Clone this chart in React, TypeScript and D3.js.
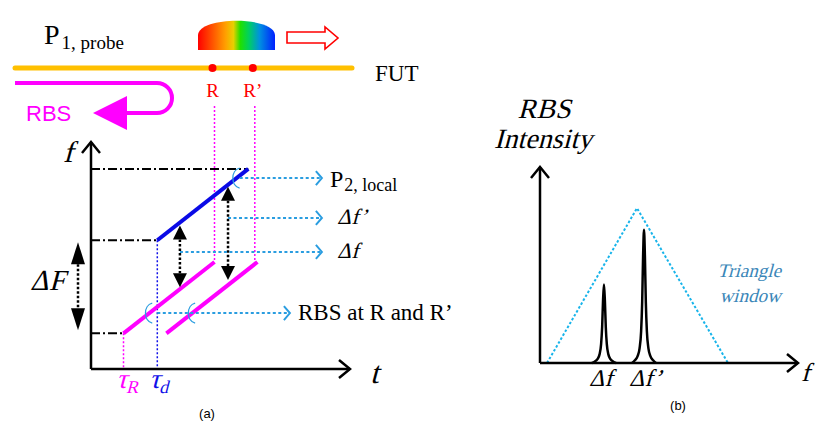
import * as d3 from "d3";

// ---- panel (a): chirps in (t, f) units ----
const localChirp: [number, number][] = [[2.55, 5.6], [6.05, 8.7]];
const rbsChirpR: [number, number][] = [[1.25, 1.55], [4.75, 4.65]];
const rbsChirpR2: [number, number][] = [[2.9, 1.55], [6.4, 4.65]];
const reflectorT = [4.75, 6.3]; // R, R'
const reflectorLabels = ["R", "R\u2019"];
const tauR = 1.25;
const tauD = 2.55;
const fLow = 1.55;
const fMid = 5.6;
const fHigh = 8.7;

// blue dotted call-outs: start t, end t, f
const calloutLabels = ["P2", "df2", "df", "rbs"];
const calloutStartT = [5.72, 5.27, 3.42, 2.55];
const calloutEndT = [8.88, 8.88, 8.88, 7.65];
const calloutF = [8.3, 6.57, 5.09, 2.43];

// ---- panel (b): RBS spectrum ----
const triangleWindow: [number, number][] = [[0.27, 0], [3.73, 0.79], [7.23, 0]];
const peakCenters = [2.46, 4.0];
const peakHeights = [0.4, 0.68];
const peakLabels = ["\u0394f", "\u0394f\u2019"];
const peakOffsets = [-0.46, -0.35, -0.25, -0.17, -0.11, -0.07, -0.035, 0, 0.035, 0.07, 0.11, 0.17, 0.25, 0.35, 0.46];
const peakShape = [0, 0.02, 0.05, 0.11, 0.24, 0.46, 0.8, 1, 0.8, 0.46, 0.24, 0.11, 0.05, 0.02, 0];

const serif = "'Liberation Serif', 'Times New Roman', serif";
const sans = "'Liberation Sans', Arial, sans-serif";
const MAGENTA = "#ff00ff";
const CYAN = "#2a9de0";

function fAt(line: [number, number][], t: number) {
  const [[t0, f0], [t1, f1]] = line;
  return f0 + ((t - t0) * (f1 - f0)) / (t1 - t0);
}

// slanted serif text (no italic face is available, so skew the regular one)
function Ital({
  x, y, size, fill = "#000", anchor = "start", children,
}: { x: number; y: number; size: number; fill?: string; anchor?: string; children: any }) {
  return (
    <text
      transform={`translate(${x},${y}) skewX(-15)`}
      fontFamily={serif}
      fontSize={size}
      fill={fill}
      textAnchor={anchor}
    >
      {children}
    </text>
  );
}

function DoubleArrow({ x, y1, y2, head }: { x: number; y1: number; y2: number; head: number }) {
  const w = 7;
  return (
    <g>
      <line x1={x} x2={x} y1={y1 + head} y2={y2 - head} stroke="#000" strokeWidth={2.5} strokeDasharray="2.5,2" />
      <path d={`M${x},${y1}L${x - w},${y1 + head}L${x + w},${y1 + head}Z`} fill="#000" />
      <path d={`M${x},${y2}L${x - w},${y2 - head}L${x + w},${y2 - head}Z`} fill="#000" />
    </g>
  );
}

function Callout({ x1, x2, y }: { x1: number; x2: number; y: number }) {
  return (
    <g stroke={CYAN} fill="none" strokeWidth={2}>
      <line x1={x1} x2={x2} y1={y} y2={y} strokeDasharray="3,2.5" />
      <path d={`M${x2 - 6},${y - 7}L${x2},${y}L${x2 - 6},${y + 7}`} />
    </g>
  );
}

function Loop({ x, y }: { x: number; y: number }) {
  return (
    <path
      d={`M${x + 3},${y - 10} C${x - 6},${y - 8} ${x - 6},${y + 8} ${x + 3},${y + 10}`}
      stroke={CYAN}
      strokeWidth={1.3}
      fill="none"
    />
  );
}

export default function App() {
  const xA = d3.scaleLinear([0, 10], [91, 351]);
  const yA = d3.scaleLinear([0, 10], [369, 139]);
  const xB = d3.scaleLinear([0, 10], [540, 800]);
  const yB = d3.scaleLinear([0, 1], [363, 167]);
  const seg = d3.line<[number, number]>((d) => xA(d[0]), (d) => yA(d[1]));
  const triLine = d3.line<[number, number]>((d) => xB(d[0]), (d) => yB(d[1]));
  const peakLine = d3
    .line<[number, number]>((d) => xB(d[0]), (d) => yB(d[1]))
    .curve(d3.curveMonotoneX);

  const ax0 = xA(0);
  const ay0 = yA(0);
  const axTop = 142;
  const axRight = 350;
  const bx0 = xB(0);
  const by0 = yB(0);

  const tDf = calloutStartT[2];
  const tDf2 = calloutStartT[1];

  return (
    <svg width={819} height={424} style={{ position: "absolute", left: 0, top: 0, background: "#fff" }}>
      <defs>
        <linearGradient id="rainbow" x1="0" x2="1" y1="0" y2="0">
          <stop offset="0" stopColor="#ff0000" />
          <stop offset="0.18" stopColor="#ff5000" />
          <stop offset="0.36" stopColor="#ffa000" />
          <stop offset="0.46" stopColor="#e8d000" />
          <stop offset="0.55" stopColor="#20e000" />
          <stop offset="0.66" stopColor="#00d060" />
          <stop offset="0.8" stopColor="#0090e0" />
          <stop offset="1" stopColor="#0020ff" />
        </linearGradient>
      </defs>

      {/* top: probe pulse on the fibre */}
      <text x={44} y={44} fontFamily={serif} fontSize={28}>
        P<tspan fontSize={19} dy={5} dx={2}>1, probe</tspan>
      </text>
      <path d="M198,50V35C199,16 274,16 275,35V50Z" fill="url(#rainbow)" />
      <path d="M287,32H325V27L338,38L325,49V43H287Z" fill="#fff" stroke="#ff0000" strokeWidth={1.6} />
      <line x1={15} x2={352} y1={68} y2={68} stroke="#ffc000" strokeWidth={5} strokeLinecap="round" />
      <text x={375} y={81} fontFamily={serif} fontSize={23}>FUT</text>
      {reflectorT.map((t, i) => (
        <g key={i}>
          <circle cx={xA(t) - 2} cy={68} r={4} fill="#ff0000" />
          <text x={xA(t) - 2} y={97} fontFamily={serif} fontSize={19} fill="#ff0000" textAnchor="middle">
            {reflectorLabels[i]}
          </text>
          <line
            x1={xA(t)}
            x2={xA(t)}
            y1={106}
            y2={yA(i === 0 ? rbsChirpR[1][1] : rbsChirpR2[1][1])}
            stroke={MAGENTA}
            strokeWidth={1.5}
            strokeDasharray="2,2"
          />
        </g>
      ))}
      <path d="M15,83H157A15,15 0 0 1 157,113H122" stroke={MAGENTA} strokeWidth={4} fill="none" />
      <path d="M93,113L127,96L127,130Z" fill={MAGENTA} />
      <text x={26} y={121} fontFamily={sans} fontSize={22} fill={MAGENTA}>RBS</text>

      {/* panel (a) */}
      <g stroke="#000" strokeWidth={2} strokeDasharray="9,3,2,3">
        <line x1={ax0} x2={xA(localChirp[1][0])} y1={yA(fHigh)} y2={yA(fHigh)} />
        <line x1={ax0} x2={xA(tauD)} y1={yA(fMid)} y2={yA(fMid)} />
        <line x1={ax0} x2={xA(tauR)} y1={yA(fLow)} y2={yA(fLow)} />
      </g>
      <line x1={xA(tauR)} x2={xA(tauR)} y1={yA(fLow)} y2={ay0} stroke={MAGENTA} strokeWidth={1.5} strokeDasharray="2,2" />
      <line x1={xA(tauD)} x2={xA(tauD)} y1={yA(fMid)} y2={ay0} stroke="#1010e8" strokeWidth={1.5} strokeDasharray="2,2" />
      <path d={seg(localChirp) ?? ""} stroke="#0a0ae6" strokeWidth={4} fill="none" />
      <path d={seg(rbsChirpR) ?? ""} stroke={MAGENTA} strokeWidth={4} fill="none" />
      <path d={seg(rbsChirpR2) ?? ""} stroke={MAGENTA} strokeWidth={4} fill="none" />

      <DoubleArrow x={xA(-0.5)} y1={yA(fMid) + 2} y2={yA(fLow) - 3} head={22} />
      <DoubleArrow x={xA(tDf)} y1={yA(fAt(localChirp, tDf)) + 3} y2={yA(fAt(rbsChirpR, tDf)) - 2} head={14} />
      <DoubleArrow x={xA(tDf2)} y1={yA(fAt(localChirp, tDf2)) + 2} y2={yA(fAt(rbsChirpR2, tDf2)) - 5} head={14} />

      {calloutLabels.map((k, i) => (
        <Callout key={k} x1={xA(calloutStartT[i])} x2={xA(calloutEndT[i])} y={yA(calloutF[i])} />
      ))}
      <Loop x={xA(5.6)} y={yA(calloutF[0])} />
      <Loop x={xA(2.24)} y={yA(calloutF[3])} />
      <Loop x={xA(3.89)} y={yA(calloutF[3])} />

      <text x={330} y={187} fontFamily={serif} fontSize={24}>
        P<tspan fontSize={18} dy={4} dx={1}>2, local</tspan>
      </text>
      <Ital x={337} y={224} size={22}>{"\u0394f\u2019"}</Ital>
      <Ital x={337} y={258} size={22}>{"\u0394f"}</Ital>
      <text x={298} y={320} fontFamily={serif} fontSize={23}>RBS at R and R{"\u2019"}</text>
      <Ital x={30} y={290} size={29}>{"\u0394F"}</Ital>

      <g stroke="#000" strokeWidth={2.5} fill="none">
        <line x1={ax0} x2={ax0} y1={ay0} y2={axTop} />
        <line x1={ax0} x2={axRight} y1={ay0} y2={ay0} />
        <path d={`M${ax0 - 9},${axTop + 11}L${ax0},${axTop}L${ax0 + 9},${axTop + 11}`} />
        <path d={`M${axRight - 11},${ay0 - 9}L${axRight},${ay0}L${axRight - 11},${ay0 + 9}`} />
      </g>
      <Ital x={63} y={162} size={30}>f</Ital>
      <Ital x={370} y={383} size={31}>t</Ital>
      <Ital x={116} y={388} size={28} fill={MAGENTA}>
        {"\u03c4"}<tspan fontSize={18} dy={5}>R</tspan>
      </Ital>
      <Ital x={149} y={388} size={28} fill="#1010e8">
        {"\u03c4"}<tspan fontSize={18} dy={5}>d</tspan>
      </Ital>
      <text x={207} y={418} fontFamily={sans} fontSize={13} textAnchor="middle">(a)</text>

      {/* panel (b) */}
      <path d={triLine(triangleWindow) ?? ""} stroke="#18b4ea" strokeWidth={2} strokeDasharray="2.5,2" fill="none" />
      {peakCenters.map((c, i) => (
        <g key={i}>
          <path
            d={peakLine(peakOffsets.map((o, j) => [c + o, peakShape[j] * peakHeights[i]] as [number, number])) ?? ""}
            stroke="#000"
            strokeWidth={2.5}
            fill="none"
          />
          <Ital x={xB(c) - 15} y={386} size={24}>{peakLabels[i]}</Ital>
        </g>
      ))}
      <g stroke="#000" strokeWidth={2.5} fill="none">
        <line x1={bx0} x2={bx0} y1={by0} y2={167} />
        <line x1={bx0} x2={798} y1={by0} y2={by0} />
        <path d={`M${bx0 - 9},${178}L${bx0},${167}L${bx0 + 9},${178}`} />
        <path d={`M${787},${by0 - 9}L${798},${by0}L${787},${by0 + 9}`} />
      </g>
      <Ital x={544} y={118} size={28} anchor="middle">RBS</Ital>
      <Ital x={543} y={148} size={28} anchor="middle">Intensity</Ital>
      <Ital x={801} y={381} size={26}>f</Ital>
      <Ital x={749} y={277} size={19} fill="#3a86b8" anchor="middle">Triangle</Ital>
      <Ital x={750} y={302} size={19} fill="#3a86b8" anchor="middle">window</Ital>
      <text x={678} y={410} fontFamily={sans} fontSize={13} textAnchor="middle">(b)</text>
    </svg>
  );
}
